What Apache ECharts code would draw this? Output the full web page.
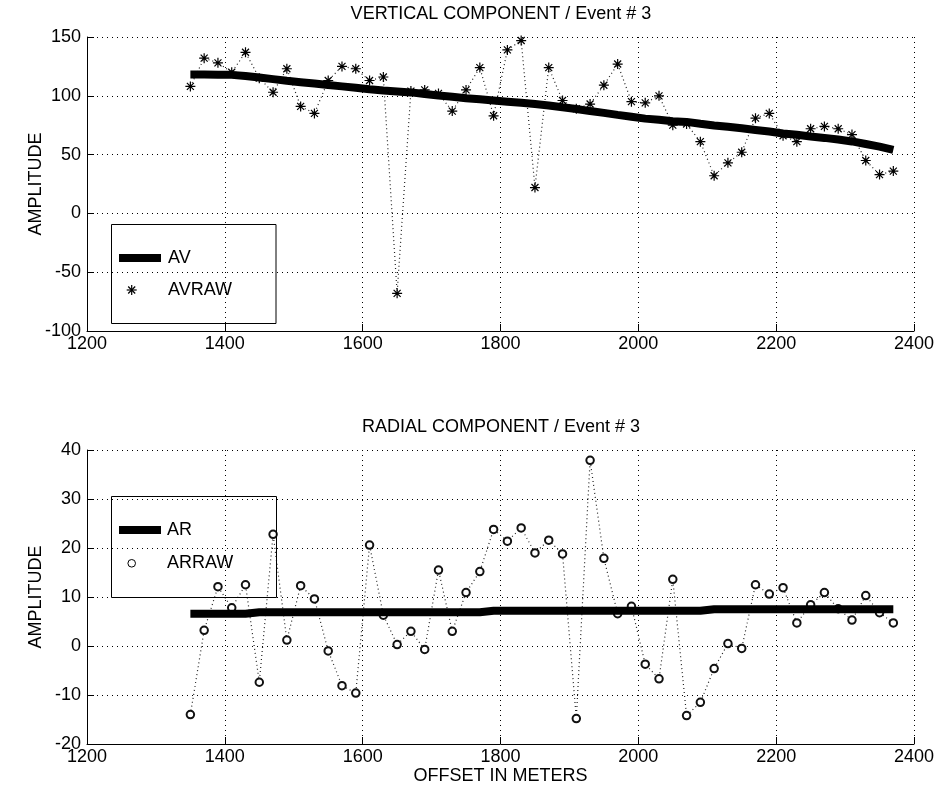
<!DOCTYPE html>
<html>
<head>
<meta charset="utf-8">
<script src="https://cdn.jsdelivr.net/npm/echarts@6/dist/echarts.min.js"></script>
<style>
  html, body { margin: 0; padding: 0; background: #fff; }
  #chart { width: 940px; height: 788px; }
</style>
</head>
<body>
<div id="chart"></div>
<script>
// Receiver offsets (m)
const offsets = [1350, 1370, 1390, 1410, 1430, 1450, 1470, 1490, 1510, 1530,
                 1550, 1570, 1590, 1610, 1630, 1650, 1670, 1690, 1710, 1730,
                 1750, 1770, 1790, 1810, 1830, 1850, 1870, 1890, 1910, 1930,
                 1950, 1970, 1990, 2010, 2030, 2050, 2070, 2090, 2110, 2130,
                 2150, 2170, 2190, 2210, 2230, 2250, 2270, 2290, 2310, 2330,
                 2350, 2370];

// Vertical component: raw amplitudes and smoothed trend
const avRaw = [108, 132, 128, 120, 137, 115, 103, 123, 91, 85,
               113, 125, 123, 113, 116, -68, 104, 105, 102, 87,
               105, 124, 83, 139, 147, 22, 124, 96, 89, 93,
               109, 127, 95, 94, 100, 75, 76, 61, 32, 43,
               52, 81, 85, 66, 61, 72, 74, 72, 67, 45,
               33, 36];
const avFit = [118.2, 118.2, 118.0, 117.8, 116.8, 115.5, 114.2, 112.8, 111.6, 110.4,
               109.2, 108.0, 106.8, 105.5, 104.5, 103.7, 102.9, 101.5, 100.3, 99.2,
               98.0, 97.0, 96.0, 95.0, 94.0, 93.0, 91.8, 90.2, 88.8, 87.0,
               85.5, 83.8, 82.2, 80.6, 79.6, 78.4, 77.8, 76.2, 74.8, 73.6,
               72.4, 71.0, 69.6, 68.0, 66.8, 65.4, 64.2, 62.8, 61.2, 59.0,
               56.8, 54.0];

// Radial component: raw amplitudes and smoothed trend
const arRaw = [-14.0, 3.2, 12.1, 7.8, 12.5, -7.4, 22.8, 1.2, 12.3, 9.6,
               -1.0, -8.1, -9.6, 20.6, 6.3, 0.3, 3.0, -0.7, 15.5, 3.0,
               10.9, 15.2, 23.8, 21.4, 24.1, 19.0, 21.6, 18.8, -14.8, 37.9,
               17.9, 6.6, 8.1, -3.7, -6.7, 13.6, -14.2, -11.5, -4.6, 0.5,
               -0.5, 12.5, 10.6, 11.9, 4.7, 8.4, 10.9, 7.6, 5.3, 10.3,
               6.8, 4.7];
const arFit = [6.6, 6.6, 6.6, 6.6, 6.6, 6.9, 6.9, 6.9, 6.9, 6.9,
               6.9, 6.9, 6.9, 6.9, 6.9, 6.9, 6.9, 6.9, 6.9, 6.9,
               6.9, 6.9, 7.2, 7.2, 7.2, 7.2, 7.2, 7.2, 7.2, 7.2,
               7.2, 7.2, 7.2, 7.2, 7.2, 7.2, 7.2, 7.2, 7.5, 7.5,
               7.5, 7.5, 7.5, 7.5, 7.5, 7.5, 7.5, 7.5, 7.5, 7.5,
               7.5, 7.5];

const pairs = (xs, ys) => xs.map((x, i) => [x, ys[i]]);

const FONT = '"Liberation Sans", Arial, Helvetica, sans-serif';
const FS = 18;
const asterisk = 'path://M5 0L5 10M0 5L10 5M1.5 1.5L8.5 8.5M8.5 1.5L1.5 8.5';
const plain = v => String(v);

function xAxisCfg(gridIndex, name) {
  return {
    type: 'value', gridIndex, min: 1200, max: 2400, interval: 200,
    name: name || '', nameLocation: 'middle', nameGap: 23, nameMoveOverlap: false,
    nameTextStyle: { color: '#000', fontSize: FS, fontFamily: FONT },
    axisLine: { show: true, onZero: false, lineStyle: { color: '#000', width: 1 } },
    axisTick: { show: true, inside: true, length: 7, lineStyle: { color: '#000', width: 1 } },
    axisLabel: { color: '#000', fontSize: FS, fontFamily: FONT, margin: 4, formatter: plain },
    splitLine: { show: true, lineStyle: { color: '#000', width: 1, type: [1, 4] } }
  };
}
function yAxisCfg(gridIndex, min, max, interval) {
  return {
    type: 'value', gridIndex, min, max, interval,
    name: 'AMPLITUDE', nameLocation: 'middle', nameGap: 42, nameRotate: 90,
    nameMoveOverlap: false,
    nameTextStyle: { color: '#000', fontSize: FS, fontFamily: FONT },
    axisLine: { show: true, onZero: false, lineStyle: { color: '#000', width: 1 } },
    axisTick: { show: true, inside: true, length: 7, lineStyle: { color: '#000', width: 1 } },
    axisLabel: { color: '#000', fontSize: FS, fontFamily: FONT, margin: 6, formatter: plain },
    splitLine: { show: true, lineStyle: { color: '#000', width: 1, type: [1, 4] } }
  };
}

function txt(text, x, y, align) {
  return { type: 'text', silent: true, z: 100,
    style: { text, x, y, align: align || 'left', verticalAlign: 'middle',
             fill: '#000', font: FS + 'px ' + FONT } };
}
function starMark(cx, cy, r) {
  const d = r * 0.7;
  const seg = (x1, y1, x2, y2) => ({ type: 'line', silent: true, z: 100,
    shape: { x1, y1, x2, y2 }, style: { stroke: '#000', lineWidth: 1.2 } });
  return [seg(cx - r, cy, cx + r, cy), seg(cx, cy - r, cx, cy + r),
          seg(cx - d, cy - d, cx + d, cy + d), seg(cx - d, cy + d, cx + d, cy - d)];
}

const chart = echarts.init(document.getElementById('chart'), null, { renderer: 'canvas' });
chart.setOption({
  animation: false,
  backgroundColor: '#fff',
  grid: [
    { left: 87, top: 37, width: 827, height: 294 },
    { left: 87, top: 450, width: 827, height: 294 }
  ],
  xAxis: [xAxisCfg(0), xAxisCfg(1, 'OFFSET IN METERS')],
  yAxis: [yAxisCfg(0, -100, 150, 50), yAxisCfg(1, -20, 40, 10)],
  series: [
    { name: 'AVRAW', type: 'line', xAxisIndex: 0, yAxisIndex: 0,
      data: pairs(offsets, avRaw), symbol: asterisk, symbolSize: 10,
      showAllSymbol: true,
      itemStyle: { color: '#000', borderColor: '#000', borderWidth: 1.2 },
      lineStyle: { color: '#222', width: 1.2, type: [1, 3] }, z: 2 },
    { name: 'AV', type: 'line', xAxisIndex: 0, yAxisIndex: 0,
      data: pairs(offsets, avFit), showSymbol: false,
      lineStyle: { color: '#000', width: 8 }, z: 3 },
    { name: 'ARRAW', type: 'line', xAxisIndex: 1, yAxisIndex: 1,
      data: pairs(offsets, arRaw), symbol: 'emptyCircle', symbolSize: 7.5,
      showAllSymbol: true,
      itemStyle: { color: '#111', borderColor: '#111', borderWidth: 0.9 },
      lineStyle: { color: '#222', width: 1.2, type: [1, 3] }, z: 2 },
    { name: 'AR', type: 'line', xAxisIndex: 1, yAxisIndex: 1,
      data: pairs(offsets, arFit), showSymbol: false, step: 'start',
      lineStyle: { color: '#000', width: 8 }, z: 3 }
  ],
  graphic: [
    txt('VERTICAL COMPONENT / Event # 3', 501, 14, 'center'),
    txt('RADIAL COMPONENT / Event # 3', 501, 427, 'center'),
    // legend, upper panel
    { type: 'rect', silent: true, z: 100, shape: { x: 111.5, y: 224.5, width: 164.5, height: 99 },
      style: { fill: 'none', stroke: '#000', lineWidth: 1 } },
    { type: 'line', silent: true, z: 100, shape: { x1: 119, y1: 258, x2: 161, y2: 258 },
      style: { stroke: '#000', lineWidth: 8 } },
    txt('AV', 168, 258),
    ...starMark(131.7, 290, 5),
    txt('AVRAW', 168, 290),
    // legend, lower panel
    { type: 'rect', silent: true, z: 100, shape: { x: 111.5, y: 496.5, width: 165, height: 101 },
      style: { fill: 'none', stroke: '#000', lineWidth: 1 } },
    { type: 'line', silent: true, z: 100, shape: { x1: 119, y1: 530, x2: 161, y2: 530 },
      style: { stroke: '#000', lineWidth: 8 } },
    txt('AR', 167, 530),
    { type: 'circle', silent: true, z: 100, shape: { cx: 131.7, cy: 563.3, r: 3.8 },
      style: { fill: 'none', stroke: '#000', lineWidth: 1 } },
    txt('ARRAW', 167, 563)
  ]
});
</script>
</body>
</html>
